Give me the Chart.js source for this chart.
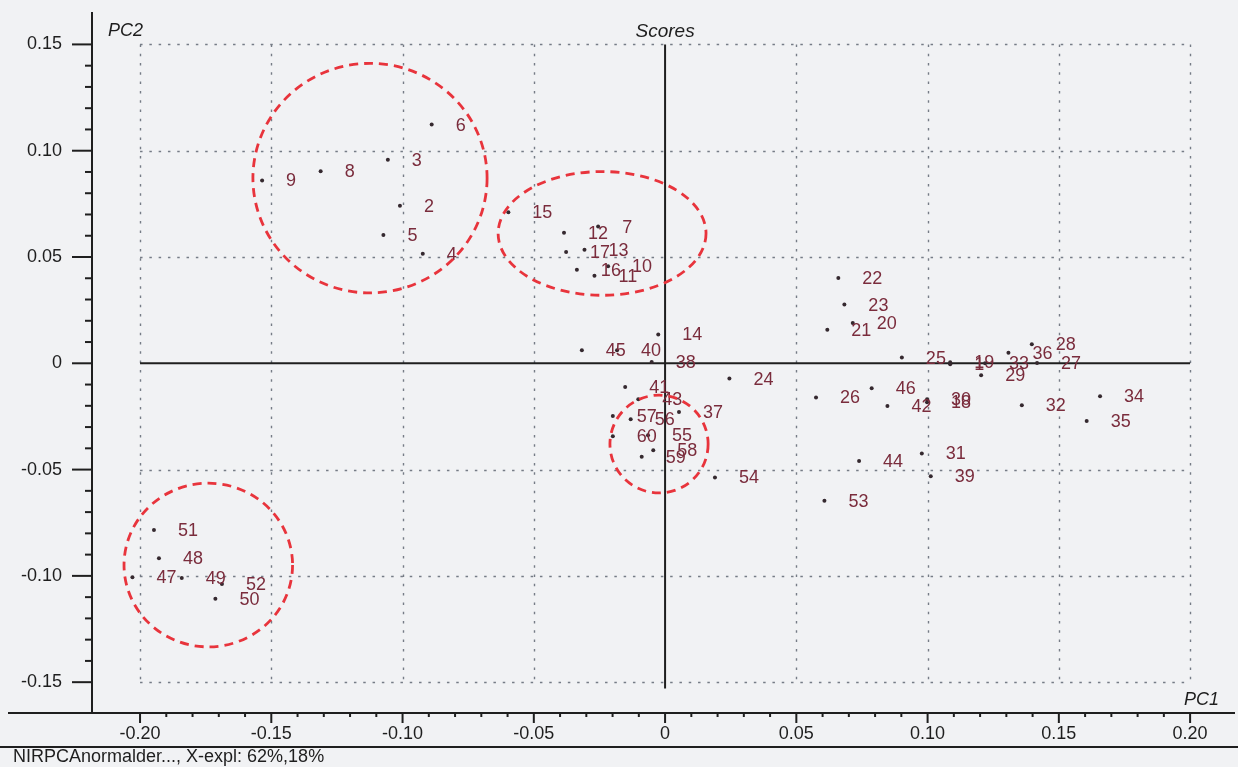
<!DOCTYPE html>
<html>
<head>
<meta charset="utf-8">
<title>Scores</title>
<script src="https://cdn.jsdelivr.net/npm/chart.js@4.4.0/dist/chart.umd.min.js"></script>
<style>
  html, body { margin: 0; padding: 0; background: #f1f2f4; }
  #grafico { display: block; }
</style>
</head>
<body>
<canvas id="grafico" width="1238" height="767"></canvas>
<script>
// muestras y sus scores PC1 / PC2
var muestras = [1, 2, 3, 4, 5, 6, 7, 8, 9, 10,
                11, 12, 13, 14, 15, 16, 17, 18, 19, 20,
                21, 22, 23, 24, 25, 26, 27, 28, 29, 30,
                31, 32, 33, 34, 35, 36, 37, 38, 39, 40,
                41, 42, 43, 44, 45, 46, 47, 48, 49, 50,
                51, 52, 53, 54, 55, 56, 57, 58, 59, 60];

var pc1 = [0.1086, -0.1010, -0.1056, -0.0923, -0.1073, -0.0889, -0.0255, -0.1312, -0.1535, -0.0217,
           -0.0269, -0.0385, -0.0307, -0.0026, -0.0597, -0.0336, -0.0377, 0.0998, 0.1086, 0.0715,
           0.0618, 0.0660, 0.0683, 0.0245, 0.0902, 0.0575, 0.1417, 0.1397, 0.1204, 0.0998,
           0.0978, 0.1359, 0.1219, 0.1657, 0.1606, 0.1308, 0.0053, -0.0051, 0.1012, -0.0183,
           -0.0152, 0.0847, -0.0102, 0.0739, -0.0317, 0.0787, -0.2029, -0.1928, -0.1841, -0.1713,
           -0.1947, -0.1688, 0.0607, 0.0190, -0.0065, -0.0131, -0.0199, -0.0045, -0.0089, -0.0199];

var pc2 = [-0.0005, 0.0741, 0.0957, 0.0515, 0.0603, 0.1123, 0.0643, 0.0903, 0.0860, 0.0456,
           0.0412, 0.0614, 0.0534, 0.0136, 0.0711, 0.0440, 0.0523, -0.0183, 0.0005, 0.0189,
           0.0158, 0.0401, 0.0276, -0.0072, 0.0027, -0.0161, 0.0001, 0.0089, -0.0056, -0.0169,
           -0.0424, -0.0197, 0.0000, -0.0155, -0.0272, 0.0050, -0.0229, 0.0006, -0.0531, 0.0061,
           -0.0111, -0.0201, -0.0169, -0.0460, 0.0061, -0.0117, -0.1007, -0.0917, -0.1010, -0.1108,
           -0.0784, -0.1038, -0.0647, -0.0537, -0.0338, -0.0263, -0.0248, -0.0409, -0.0440, -0.0343];

var ticksX = [-0.20, -0.15, -0.10, -0.05, 0, 0.05, 0.10, 0.15, 0.20];
var ticksY = [-0.15, -0.10, -0.05, 0, 0.05, 0.10, 0.15];

// anillos rojos alrededor de los grupos (centro y radios en unidades de score)
var anilloX  = [-0.1124, -0.0240, -0.0023, -0.1740];
var anilloY  = [0.0871, 0.0611, -0.0380, -0.0949];
var anilloRx = [0.0446, 0.0396, 0.0187, 0.0321];
var anilloRy = [0.0540, 0.0291, 0.0230, 0.0385];

var titulo = 'Scores';
var nombreX = 'PC1';
var nombreY = 'PC2';
var pie = 'NIRPCAnormalder..., X-expl: 62%,18%';

var fuente = '"Liberation Sans", Arial, sans-serif';
var fondo = '#f1f2f4';

function formato(v){
    if (Math.abs(v) < 1e-9) return '0';
    return v.toFixed(2);
}

function linea(ctx, x1, y1, x2, y2){
    ctx.beginPath();
    ctx.moveTo(x1, y1);
    ctx.lineTo(x2, y2);
    ctx.stroke();
}

var puntos = [];
for (var i = 0; i < muestras.length; i++) {
    puntos.push({x: pc1[i], y: pc2[i]});
}

var dibujos = {
    id: 'dibujos',
    beforeDraw: function(chart){
        var ctx = chart.ctx;
        ctx.save();
        ctx.fillStyle = fondo;
        ctx.fillRect(0, 0, chart.width, chart.height);
        ctx.restore();
    },
    beforeDatasetsDraw: function(chart){
        var ctx = chart.ctx, sx = chart.scales.x, sy = chart.scales.y;
        var xIzq = sx.getPixelForValue(ticksX[0]);
        var xDer = sx.getPixelForValue(ticksX[ticksX.length - 1]);
        var yArr = sy.getPixelForValue(ticksY[ticksY.length - 1]);
        var yAba = sy.getPixelForValue(ticksY[0]);

        // rejilla punteada
        ctx.save();
        ctx.strokeStyle = '#767c86';
        ctx.lineWidth = 1.4;
        ctx.setLineDash([2.5, 6.8]);
        ticksX.forEach(function(v){
            if (v === 0) return;
            var px = Math.round(sx.getPixelForValue(v)) + 0.5;
            linea(ctx, px, yArr, px, yAba);
        });
        ticksY.forEach(function(v){
            if (v === 0) return;
            var py = Math.round(sy.getPixelForValue(v)) + 0.5;
            linea(ctx, xIzq, py, xDer, py);
        });
        ctx.restore();

        // ejes en cero
        ctx.save();
        ctx.strokeStyle = '#1f1f1f';
        ctx.lineWidth = 2;
        var x0 = sx.getPixelForValue(0), y0 = sy.getPixelForValue(0);
        linea(ctx, x0, yArr, x0, sy.getPixelForValue(-0.153));
        linea(ctx, xIzq, y0, xDer, y0);
        ctx.restore();
    },
    afterDatasetsDraw: function(chart){
        var ctx = chart.ctx, sx = chart.scales.x, sy = chart.scales.y;
        var meta = chart.getDatasetMeta(0);

        // numero de muestra junto a cada punto
        ctx.save();
        ctx.font = '18px ' + fuente;
        ctx.fillStyle = '#7a2c3c';
        ctx.textAlign = 'left';
        ctx.textBaseline = 'middle';
        meta.data.forEach(function(el, i){
            ctx.fillText(String(muestras[i]), el.x + 24, el.y + 1);
        });
        ctx.restore();

        // anillos punteados
        ctx.save();
        ctx.strokeStyle = '#e8343c';
        ctx.lineWidth = 2.8;
        ctx.setLineDash([9, 6]);
        for (var k = 0; k < anilloX.length; k++) {
            var cx = sx.getPixelForValue(anilloX[k]);
            var cy = sy.getPixelForValue(anilloY[k]);
            var rx = Math.abs(sx.getPixelForValue(anilloX[k] + anilloRx[k]) - cx);
            var ry = Math.abs(sy.getPixelForValue(anilloY[k] + anilloRy[k]) - cy);
            ctx.beginPath();
            ctx.ellipse(cx, cy, rx, ry, 0, 0, Math.PI * 2);
            ctx.stroke();
        }
        ctx.restore();
    },
    afterDraw: function(chart){
        var ctx = chart.ctx, sx = chart.scales.x, sy = chart.scales.y;
        var area = chart.chartArea;

        ctx.save();
        ctx.strokeStyle = '#1f1f1f';
        ctx.lineWidth = 2;
        // lineas de los ejes
        linea(ctx, area.left, 12, area.left, area.bottom);
        linea(ctx, 8, area.bottom, area.right, area.bottom);

        // marcas mayores y menores
        for (var i = -15; i <= 15; i++) {
            var py = sy.getPixelForValue(i / 100);
            var largo = (i % 5 === 0) ? 20 : 7;
            linea(ctx, area.left - largo, py, area.left, py);
        }
        for (var j = -20; j <= 20; j++) {
            var px = sx.getPixelForValue(j / 100);
            var alto = (j % 5 === 0) ? 10 : 4;
            linea(ctx, px, area.bottom, px, area.bottom + alto);
        }

        // linea inferior y pie
        linea(ctx, 0, 747, chart.width, 747);
        ctx.restore();

        ctx.save();
        ctx.fillStyle = '#1e1e1e';
        ctx.font = 'italic 18px ' + fuente;
        ctx.textBaseline = 'middle';
        ctx.textAlign = 'left';
        ctx.fillText(nombreY, 108, 31);
        ctx.textAlign = 'center';
        ctx.font = 'italic 19px ' + fuente;
        ctx.fillText(titulo, sx.getPixelForValue(0), 32);
        ctx.textAlign = 'right';
        ctx.font = 'italic 18px ' + fuente;
        ctx.fillText(nombreX, 1219, 700);
        ctx.textAlign = 'left';
        ctx.font = '18px ' + fuente;
        ctx.fillText(pie, 13, 757);
        ctx.restore();
    }
};

var datos = {
    datasets: [{
        label: 'Scores',
        data: puntos,
        pointRadius: 2,
        pointHoverRadius: 2,
        pointBackgroundColor: '#35292f',
        pointBorderWidth: 0
    }]
};

var config = {
    type: 'scatter',
    data: datos,
    options: {
        responsive: false,
        devicePixelRatio: 1,
        animation: false,
        layout: { padding: { left: 0, right: 3, top: 12, bottom: 24 } },
        plugins: {
            legend: { display: false },
            tooltip: { enabled: false }
        },
        scales: {
            x: {
                type: 'linear',
                position: 'bottom',
                min: -0.2183,
                max: 0.2171,
                afterBuildTicks: function(s){
                    s.ticks = ticksX.map(function(v){ return {value: v}; });
                },
                afterFit: function(s){ s.height = 30; },
                grid: { display: false, drawTicks: false },
                border: { display: false },
                ticks: {
                    autoSkip: false,
                    maxRotation: 0,
                    padding: 10,
                    color: '#1e1e1e',
                    font: { family: fuente, size: 18 },
                    callback: function(v){ return formato(v); }
                }
            },
            y: {
                type: 'linear',
                position: 'left',
                min: -0.1645,
                max: 0.1517,
                afterBuildTicks: function(s){
                    s.ticks = ticksY.map(function(v){ return {value: v}; });
                },
                afterFit: function(s){ s.width = 92; },
                grid: { display: false, drawTicks: false },
                border: { display: false },
                ticks: {
                    autoSkip: false,
                    padding: 30,
                    color: '#1e1e1e',
                    font: { family: fuente, size: 18 },
                    callback: function(v){ return formato(v); }
                }
            }
        }
    },
    plugins: [dibujos]
};

var myChart = new Chart(document.getElementById('grafico'), config);
</script>
</body>
</html>
